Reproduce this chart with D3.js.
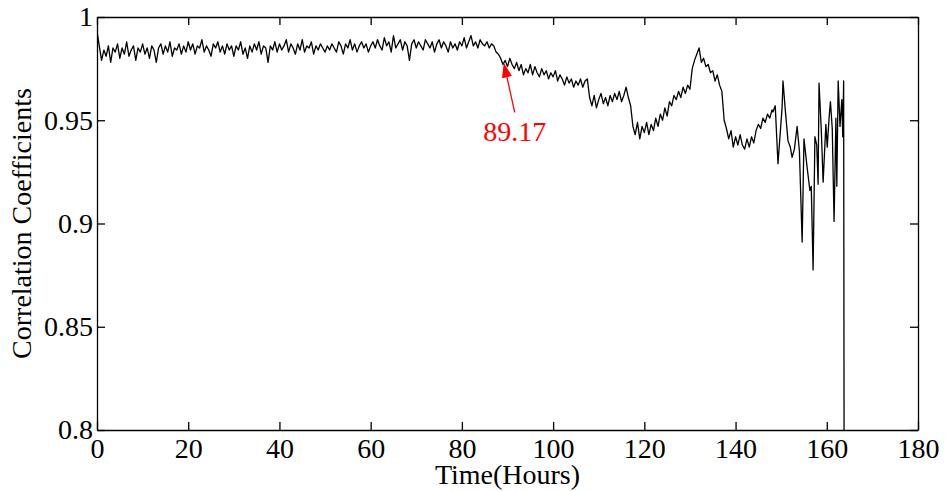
<!DOCTYPE html>
<html>
<head>
<meta charset="utf-8">
<script src="https://cdn.jsdelivr.net/npm/d3@7"></script>
<style>
  body { margin: 0; background: #fff; }
  .axis path, .axis line { stroke: #000; stroke-width: 1.3; }
</style>
</head>
<body>
<svg width="946" height="491"></svg>
<script>
// regular samples, every half hour from 0 to 148 h
const sampleStep = 0.5;
const regularValues = [
  // 0 - 10
  0.993, 0.986, 0.979, 0.984, 0.981, 0.986, 0.978, 0.985, 0.983, 0.987, 0.980,
  0.985, 0.982, 0.988, 0.981, 0.984, 0.986, 0.979, 0.985, 0.983, 0.987,
  // 10.5 - 20
  0.982, 0.985, 0.980, 0.986, 0.984, 0.978, 0.985, 0.987, 0.982, 0.986,
  0.983, 0.988, 0.981, 0.985, 0.984, 0.987, 0.982, 0.986, 0.983, 0.988,
  // 20.5 - 30
  0.984, 0.987, 0.982, 0.986, 0.985, 0.989, 0.983, 0.986, 0.984, 0.981,
  0.987, 0.985, 0.988, 0.983, 0.986, 0.982, 0.987, 0.984, 0.986, 0.981,
  // 30.5 - 40
  0.986, 0.984, 0.988, 0.982, 0.985, 0.980, 0.986, 0.983, 0.987, 0.984,
  0.988, 0.982, 0.986, 0.985, 0.978, 0.986, 0.984, 0.988, 0.983, 0.987,
  // 40.5 - 50
  0.984, 0.986, 0.989, 0.983, 0.987, 0.985, 0.982, 0.987, 0.984, 0.989,
  0.983, 0.986, 0.985, 0.988, 0.982, 0.986, 0.984, 0.987, 0.985, 0.983,
  // 50.5 - 60
  0.986, 0.984, 0.987, 0.985, 0.983, 0.988, 0.986, 0.982, 0.987, 0.985,
  0.989, 0.984, 0.987, 0.983, 0.986, 0.988, 0.985, 0.987, 0.983, 0.986,
  // 60.5 - 70
  0.988, 0.985, 0.989, 0.986, 0.984, 0.990, 0.986, 0.988, 0.983, 0.991,
  0.985, 0.987, 0.989, 0.984, 0.988, 0.986, 0.979, 0.987, 0.989, 0.985,
  // 70.5 - 80
  0.988, 0.986, 0.984, 0.989, 0.987, 0.985, 0.988, 0.983, 0.987, 0.989,
  0.985, 0.988, 0.986, 0.983, 0.988, 0.985, 0.987, 0.984, 0.988, 0.986,
  // 80.5 - 88
  0.990, 0.985, 0.988, 0.991, 0.986, 0.988, 0.985, 0.989, 0.987, 0.986,
  0.988, 0.985, 0.987, 0.986, 0.983, 0.982,
  // 88.5 - 107.5
  0.980, 0.977, 0.979, 0.976, 0.980, 0.977, 0.975, 0.978, 0.974, 0.977,
  0.972, 0.975, 0.973, 0.977, 0.972, 0.976, 0.973, 0.971, 0.975, 0.972,
  0.974, 0.970, 0.973, 0.971, 0.974, 0.969, 0.972, 0.970, 0.967, 0.971,
  0.968, 0.970, 0.966, 0.969, 0.967, 0.970, 0.966, 0.969, 0.970,
  // 108 - 117
  0.961, 0.957, 0.962, 0.956, 0.960, 0.963, 0.958, 0.961, 0.957, 0.962,
  0.959, 0.963, 0.960, 0.964, 0.959, 0.962, 0.966, 0.961, 0.957,
  // 117.5 - 130
  0.947, 0.943, 0.949, 0.941, 0.947, 0.944, 0.949, 0.943, 0.948, 0.945,
  0.951, 0.947, 0.953, 0.950, 0.956, 0.952, 0.959, 0.957, 0.962, 0.960,
  0.964, 0.961, 0.966, 0.963, 0.967, 0.965,
  // 130.5 - 148
  0.975, 0.979, 0.982, 0.985, 0.978, 0.980, 0.976, 0.977, 0.973, 0.974,
  0.969, 0.972, 0.967, 0.964, 0.950, 0.946, 0.941, 0.945, 0.937, 0.942,
  0.938, 0.943, 0.938, 0.936, 0.941, 0.937, 0.942, 0.939, 0.945, 0.948,
  0.946, 0.951, 0.949, 0.953, 0.951, 0.955
];

// sparse, irregular samples at the end of the record
const tailHours = [
  148.2, 148.7, 149.3, 150.2, 150.4, 150.9, 151.5, 152.0, 152.4, 152.9,
  153.5, 154.0, 154.6, 155.0, 155.4, 155.7, 156.3, 156.6, 157.0, 157.4,
  157.8, 158.1, 158.3, 158.8, 159.2, 159.8, 160.1, 160.5, 160.8, 161.2,
  161.6, 162.0, 162.2, 162.5, 162.9, 163.3, 163.5, 163.7, 163.8
];
const tailValues = [
  0.954, 0.957, 0.929, 0.956, 0.969, 0.955, 0.940, 0.937, 0.932, 0.936,
  0.947, 0.935, 0.891, 0.941, 0.933, 0.927, 0.916, 0.918, 0.8775, 0.942,
  0.938, 0.919, 0.968, 0.945, 0.920, 0.948, 0.937, 0.951, 0.959, 0.946,
  0.901, 0.951, 0.918, 0.969, 0.947, 0.960, 0.942, 0.969, 0.78
];

const xTicks = [0, 20, 40, 60, 80, 100, 120, 140, 160, 180];
const yTicks = [0.8, 0.85, 0.9, 0.95, 1];
const yTickLabels = ['0.8', '0.85', '0.9', '0.95', '1'];

const annotation = { hour: 89.17, value: 0.978, label: '89.17' };

const serif = '"Liberation Serif", "Times New Roman", Times, serif';

const data = regularValues.map((v, i) => ({ t: i * sampleStep, v }))
  .concat(tailHours.map((t, i) => ({ t, v: tailValues[i] })));

const svg = d3.select('svg');
const width = +svg.attr('width');
const height = +svg.attr('height');

const margin = { top: 17, right: 28, bottom: 61, left: 97 };
const innerWidth = width - margin.left - margin.right;
const innerHeight = height - margin.top - margin.bottom;

const xScale = d3.scaleLinear().domain([0, 180]).range([0, innerWidth]);
const yScale = d3.scaleLinear().domain([0.8, 1]).range([innerHeight, 0]);

const g = svg.append('g')
  .attr('transform', `translate(${margin.left},${margin.top})`);

g.append('clipPath').attr('id', 'plot-clip')
  .append('rect')
  .attr('width', innerWidth)
  .attr('height', innerHeight);

// axes, ticks pointing inward on all four sides
g.append('g').attr('class', 'axis')
  .attr('transform', `translate(0,${innerHeight})`)
  .call(d3.axisBottom(xScale).tickValues(xTicks)
    .tickSizeInner(-8).tickSizeOuter(0).tickPadding(8));

g.append('g').attr('class', 'axis')
  .call(d3.axisTop(xScale).tickValues(xTicks)
    .tickSizeInner(-8).tickSizeOuter(0).tickFormat(''));

g.append('g').attr('class', 'axis')
  .call(d3.axisLeft(yScale).tickValues(yTicks)
    .tickFormat((d, i) => yTickLabels[i])
    .tickSizeInner(-8).tickSizeOuter(0).tickPadding(4));

g.append('g').attr('class', 'axis')
  .attr('transform', `translate(${innerWidth},0)`)
  .call(d3.axisRight(yScale).tickValues(yTicks)
    .tickSizeInner(-8).tickSizeOuter(0).tickFormat(''));

g.selectAll('.tick text')
  .attr('fill', '#000')
  .style('font-family', serif)
  .style('font-size', '28px');

// the series
const line = d3.line()
  .x(d => xScale(d.t))
  .y(d => yScale(d.v));

g.append('path')
  .datum(data)
  .attr('clip-path', 'url(#plot-clip)')
  .attr('fill', 'none')
  .attr('stroke', '#000')
  .attr('stroke-width', 1.3)
  .attr('stroke-linejoin', 'round')
  .attr('d', line);

// red arrow annotation
const tipX = xScale(annotation.hour);
const tipY = yScale(annotation.value);
const tailX = tipX + 11;
const tailY = tipY + 50;
const ang = Math.atan2(tipY - tailY, tipX - tailX);
const headLen = 15, headW = 5;
const bx = tipX - headLen * Math.cos(ang);
const by = tipY - headLen * Math.sin(ang);

g.append('line')
  .attr('x1', tailX).attr('y1', tailY)
  .attr('x2', bx).attr('y2', by)
  .attr('stroke', '#ff0000')
  .attr('stroke-width', 1.3);

g.append('path')
  .attr('d', `M${tipX},${tipY}` +
    `L${bx + headW * Math.sin(ang)},${by - headW * Math.cos(ang)}` +
    `L${bx - headW * Math.sin(ang)},${by + headW * Math.cos(ang)}Z`)
  .attr('fill', '#ff0000');

g.append('text')
  .attr('x', tailX)
  .attr('y', tailY + 29)
  .attr('text-anchor', 'middle')
  .style('font-family', serif)
  .style('font-size', '28px')
  .attr('fill', '#ff0000')
  .text(annotation.label);

// axis titles
g.append('text')
  .attr('x', innerWidth / 2)
  .attr('y', innerHeight + 54)
  .attr('text-anchor', 'middle')
  .style('font-family', serif)
  .style('font-size', '28px')
  .text('Time(Hours)');

g.append('text')
  .attr('transform', `translate(${-66},${innerHeight / 2}) rotate(-90)`)
  .attr('text-anchor', 'middle')
  .style('font-family', serif)
  .style('font-size', '28px')
  .text('Correlation Coefficients');
</script>
</body>
</html>
